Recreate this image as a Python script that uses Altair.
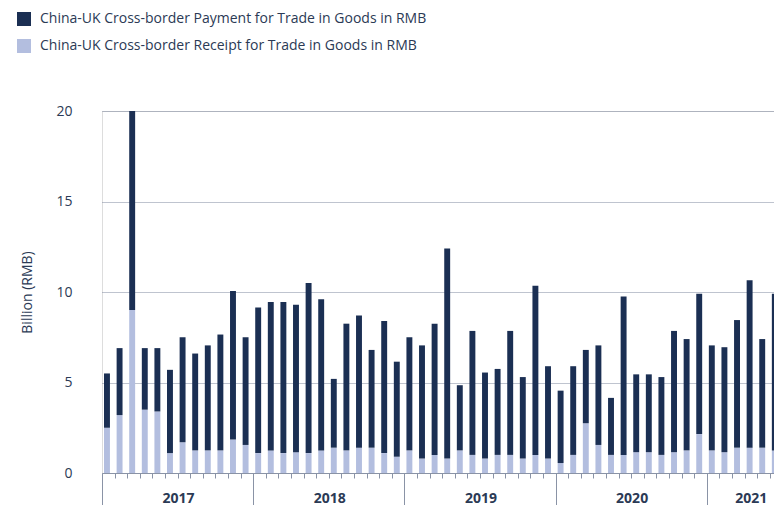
import altair as alt
import pandas as pd

# Monthly values, Jan 2017 - Jun 2021 (billion RMB)
months = [f"{y}-{m:02d}" for y in range(2017, 2022) for m in range(1, 13)][:54]
receipt = [2.5, 3.2, 9.0, 3.5, 3.4, 1.1, 1.7, 1.25, 1.25, 1.25, 1.85, 1.55,
           1.1, 1.25, 1.1, 1.15, 1.1, 1.25, 1.4, 1.25, 1.4, 1.4, 1.1, 0.9,
           1.25, 0.8, 1.0, 0.8, 1.25, 1.0, 0.8, 1.0, 1.0, 0.8, 1.0, 0.8,
           0.55, 1.0, 2.75, 1.55, 1.0, 1.0, 1.15, 1.15, 1.0, 1.15, 1.25, 2.15,
           1.25, 1.15, 1.4, 1.4, 1.4, 1.25]
payment = [3.0, 3.7, 11.0, 3.4, 3.5, 4.6, 5.8, 5.35, 5.8, 6.4, 8.2, 5.95,
           8.05, 8.2, 8.35, 8.15, 9.4, 8.35, 3.8, 7.0, 7.3, 5.4, 7.3, 5.25,
           6.25, 6.25, 7.25, 11.6, 3.6, 6.85, 4.75, 4.75, 6.85, 4.5, 9.35, 5.1,
           4.0, 4.9, 4.05, 5.5, 3.15, 8.75, 4.3, 4.3, 4.3, 6.7, 6.15, 7.75,
           5.8, 5.8, 7.05, 9.25, 6.0, 8.65]
series = ["China-UK Cross-border Payment for Trade in Goods in RMB",
          "China-UK Cross-border Receipt for Trade in Goods in RMB"]
colors = ["#1b2f53", "#b3bedf"]
y_ticks = [0, 5, 10, 15, 20]
month_ticks = list(range(0, 54))

rows = []
for i, m in enumerate(months):
    r, p = receipt[i], payment[i]
    rows.append({"i": i, "month": m, "series": series[1], "lo": 0.0, "hi": r})
    rows.append({"i": i, "month": m, "series": series[0], "lo": r, "hi": r + p})
df = pd.DataFrame(rows)

TXT = "#2b3a55"
FONT = "Open Sans"

bars = alt.Chart(df).mark_bar(clip=True).transform_calculate(
    xs="datum.i + 0.16", xe="datum.i + 0.63"
).encode(
    x=alt.X("xs:Q",
            scale=alt.Scale(domain=[0, 53.33], nice=False, zero=False),
            axis=alt.Axis(
                title=None,
                values=month_ticks,
                grid=False,
                domain=True,
                domainColor="#8a93a6",
                domainWidth=1,
                ticks=True,
                tickColor="#8a93a6",
                tickWidth=1,
                tickSize={"condition": {"test": "datum.value % 12 === 0", "value": 36}, "value": 5},
                labelExpr="datum.value % 12 === 0 ? toString(2017 + datum.value / 12) : ''",
                labelOffset={"condition": {"test": "datum.value === 48", "value": 44}, "value": 76},
                labelPadding=-18,
                labelFont=FONT,
                labelFontSize=14,
                labelFontWeight="bold",
                labelColor=TXT,
                labelOverlap=False,
                labelFlush=False,
                labelBound=False,
            )),
    x2="xe:Q",
    y=alt.Y("lo:Q",
            scale=alt.Scale(domain=[0, 20], nice=False),
            axis=alt.Axis(
                title="Billion (RMB)",
                values=y_ticks,
                grid=True,
                gridColor="#7f899e",
                gridDash=[1, 1],
                gridWidth=1,
                domain=False,
                ticks=False,
                labelPadding=30,
                labelFont=FONT,
                labelFontSize=14,
                labelColor=TXT,
                titleFont=FONT,
                titleFontSize=14,
                titleFontWeight="normal",
                titleColor=TXT,
                titleAngle=270,
                titleX=-75,
                titleY=181,
                titleAlign="center",
                titleBaseline="middle",
            )),
    y2="hi:Q",
    color=alt.Color("series:N",
                    scale=alt.Scale(domain=series, range=colors),
                    legend=alt.Legend(
                        orient="none",
                        legendX=-85,
                        legendY=-99,
                        title=None,
                        symbolType="square",
                        symbolSize=196,
                        symbolStrokeWidth=0,
                        labelFont=FONT,
                        labelFontSize=14,
                        labelColor=TXT,
                        labelOffset=9,
                        rowPadding=13,
                        padding=0,
                        labelLimit=600,
                    )),
    order=alt.Order("lo:Q"),
)

chart = bars.properties(
    width=672,
    height=362,
    autosize=alt.AutoSizeParams(type="none"),
    padding={"left": 94, "top": 103, "right": 0, "bottom": 32},
).configure_view(stroke=None).configure(background="white")

chart.save("out.html", embed_options={"renderer": "svg", "actions": False})
